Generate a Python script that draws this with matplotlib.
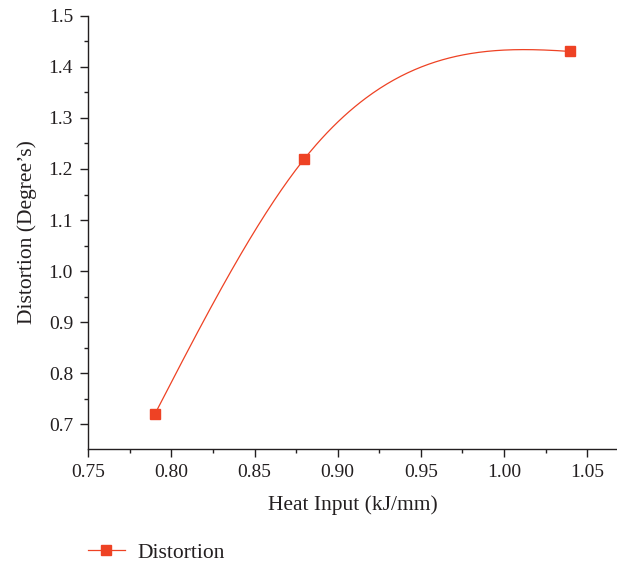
import numpy as np
import matplotlib
matplotlib.use("Agg")
import matplotlib.pyplot as plt
from matplotlib.ticker import MultipleLocator, FormatStrFormatter

# data
heat_input = [0.79, 0.88, 1.04]
distortion = [0.72, 1.22, 1.43]

RED = "#ee4224"
TXT = "#231f20"

plt.rcParams["font.family"] = ["Liberation Serif", "DejaVu Serif"]
plt.rcParams["text.color"] = TXT


def spline_curve(x, y, end_ratio=0.08, n=300):
    # cubic spline, free at the start, slight curvature kept at the end
    x = np.asarray(x, float)
    y = np.asarray(y, float)
    k = len(x)
    h = np.diff(x)
    A = np.zeros((k, k))
    b = np.zeros(k)
    A[0, 0] = 1
    A[-1, -1] = 1
    A[-1, -2] = -end_ratio
    for i in range(1, k - 1):
        A[i, i - 1] = h[i - 1]
        A[i, i] = 2 * (h[i - 1] + h[i])
        A[i, i + 1] = h[i]
        b[i] = 6 * ((y[i + 1] - y[i]) / h[i] - (y[i] - y[i - 1]) / h[i - 1])
    M = np.linalg.solve(A, b)
    xs = np.linspace(x[0], x[-1], n)
    idx = np.clip(np.searchsorted(x, xs) - 1, 0, k - 2)
    t = (xs - x[idx]) / h[idx]
    ys = (y[idx] * (1 - t) + y[idx + 1] * t
          + (M[idx] * ((1 - t) ** 3 - (1 - t)) + M[idx + 1] * (t ** 3 - t)) * h[idx] ** 2 / 6)
    return xs, ys


fig = plt.figure(figsize=(6.17, 5.67), dpi=100)
ax = fig.add_axes([0.1431, 0.2081, 0.8569, 0.7642])

xs, ys = spline_curve(heat_input, distortion)
ax.plot(xs, ys, color=RED, lw=0.9)
ax.plot(heat_input, distortion, ls="none", marker="s", ms=7, color=RED)

ax.set_xlim(0.75, 1.068)
ax.set_ylim(0.652, 1.5)
ax.xaxis.set_major_locator(MultipleLocator(0.05))
ax.xaxis.set_minor_locator(MultipleLocator(0.025))
ax.yaxis.set_major_locator(MultipleLocator(0.1))
ax.yaxis.set_minor_locator(MultipleLocator(0.05))
ax.xaxis.set_major_formatter(FormatStrFormatter("%.2f"))
ax.yaxis.set_major_formatter(FormatStrFormatter("%.1f"))

for s in ["top", "right"]:
    ax.spines[s].set_visible(False)
for s in ["left", "bottom"]:
    ax.spines[s].set_color(TXT)
    ax.spines[s].set_linewidth(1.0)
ax.tick_params(which="major", direction="out", length=6, width=1.0, colors=TXT,
               labelsize=14, pad=5)
ax.tick_params(which="minor", direction="out", length=3, width=1.0, colors=TXT)

ax.set_xlabel("Heat Input (kJ/mm)", fontsize=15.5, labelpad=10, color=TXT)
ax.set_ylabel("Distortion (Degree\u2019s)", fontsize=15.5, labelpad=8, color=TXT)

# legend below the axes
h, = ax.plot([], [], color=RED, lw=0.9, marker="s", ms=7, label="Distortion")
fig.legend(handles=[h], loc="center left", bbox_to_anchor=(0.142, 0.025),
           frameon=False, fontsize=15.5, handlelength=1.75, handletextpad=0.55,
           borderpad=0, borderaxespad=0)

fig.savefig("out.png", dpi=100)
